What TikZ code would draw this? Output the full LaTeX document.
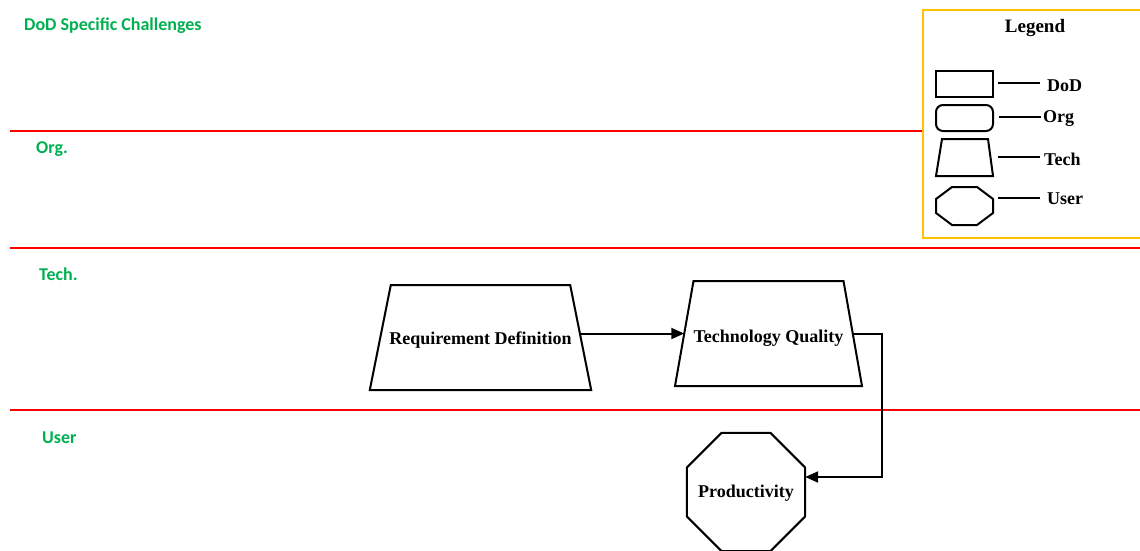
\documentclass[tikz,border=0pt]{standalone}
\usepackage{fontspec}
\setmainfont{Liberation Serif}
\newfontfamily\lanefont{Carlito}
\usetikzlibrary{shapes.geometric,arrows.meta}
\definecolor{lanegreen}{HTML}{00B050}
\definecolor{legendgold}{HTML}{FFC000}

\begin{document}
\begin{tikzpicture}[x=1pt,y=-1pt,
  lanelabel/.style={anchor=west, inner sep=0pt, text=lanegreen,
    font=\lanefont\bfseries\fontsize{18}{20}\selectfont},
  laneline/.style={draw=red, line width=2pt},
  shapeline/.style={draw=black, line width=2pt, line join=miter},
  boxtext/.style={inner sep=0pt, outer sep=0pt, font=\bfseries\fontsize{18}{20}\selectfont},
  userbox/.style={shapeline, fill=white, regular polygon, regular polygon sides=8,
    inner sep=0pt, outer sep=0pt, minimum size=128pt},
  flow/.style={draw=black, line width=2pt, -{Triangle[length=13pt,width=11pt]}},
  keyline/.style={draw=black, line width=2pt},
  keytext/.style={anchor=west, inner sep=0pt, font=\bfseries\fontsize{18}{20}\selectfont},
]
\useasboundingbox (0,0) rectangle (1140,550);

% swim-lane separators
\draw[laneline] (10,131) -- (930,131);
\draw[laneline] (10,248) -- (1140,248);
\draw[laneline] (10,410) -- (1140,410);

% lane titles
\node[lanelabel] (lanedod)  at (24,26)  {DoD Specific Challenges};
\node[lanelabel] (laneorg)  at (36,149) {Org.};
\node[lanelabel] (lanetech) at (39,274) {Tech.};
\node[lanelabel] (laneuser) at (42,438) {User};

% Tech shapes: the node spans the mid-height width, the outline leans out below
\node[boxtext, minimum width=200.4pt, minimum height=105pt] (req) at (480.5,337.5) {};
\draw[shapeline] ([xshift=10.5pt]req.north west) -- ([xshift=-10.5pt]req.north east)
  -- ([xshift=10.5pt]req.south east) -- ([xshift=-10.5pt]req.south west) -- cycle;
\node[boxtext] (reqtext) at ([yshift=-3pt]req.center) {Requirement Definition};

\node[boxtext, minimum width=168.5pt, minimum height=105pt] (tq) at (768.5,333.5) {};
\draw[shapeline] ([xshift=9.25pt]tq.north west) -- ([xshift=-9.25pt]tq.north east)
  -- ([xshift=9.25pt]tq.south east) -- ([xshift=-9.25pt]tq.south west) -- cycle;
\node[boxtext] (tqtext) at ([yshift=-5pt]tq.center) {Technology Quality};

% User shape
\node[userbox] (prod) at (746,492) {};
\node[boxtext] (prodtext) at ([yshift=-1.5pt]prod.center) {Productivity};

% connectors
\draw[flow] (tq.west -| req.east) -- (tq.west);
\draw[flow] (tq.east) -- (882,333.5) |- ([yshift=15pt]prod.east);

% legend
\draw[draw=legendgold, line width=2pt, fill=white] (923,10) rectangle (1145,238);
\node[font=\bfseries\fontsize{19}{21}\selectfont, inner sep=0pt] (legtitle) at (1035,28) {Legend};

% legend symbols
\draw[shapeline] (936,71) rectangle (993,97);
\draw[shapeline, rounded corners=7pt] (936,105) rectangle (993,131);
\draw[shapeline] (942,139) -- (988,139) -- (993,176) -- (936,176) -- cycle;
\draw[shapeline] (952,187) -- (977,187) -- (993,199) -- (993,213) -- (977,225)
  -- (952,225) -- (936,213) -- (936,199) -- cycle;

% legend keys
\coordinate (kd1) at (998,83);  \coordinate (kd2) at (1040,83);
\coordinate (ko1) at (999,117); \coordinate (ko2) at (1041,117);
\coordinate (kt1) at (998,157); \coordinate (kt2) at (1040,157);
\coordinate (ku1) at (998,198); \coordinate (ku2) at (1040,198);
\draw[keyline] (kd1) -- (kd2);
\draw[keyline] (ko1) -- (ko2);
\draw[keyline] (kt1) -- (kt2);
\draw[keyline] (ku1) -- (ku2);
\node[keytext] (keydod)  at (1047,86)  {DoD};
\node[keytext] (keyorg)  at (1043,119) {Org};
\node[keytext] (keytech) at (1044,159) {Tech};
\node[keytext] (keyuser) at (1047,199) {User};
\end{tikzpicture}
\end{document}
